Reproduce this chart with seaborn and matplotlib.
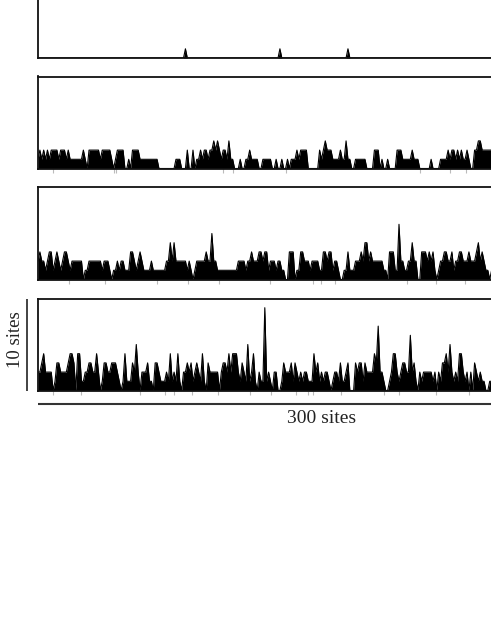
import numpy as np
import matplotlib
matplotlib.use("Agg")
import matplotlib.pyplot as plt
import matplotlib.transforms as mtransforms
import seaborn as sns

# counts per site (sites 0..240, everything right of that is cut off)
n_sites = 241
top_peaks = [78, 128, 164]  # the only sites with a hit in the first track

track2 = [1, 2, 1, 2, 1, 2, 1, 2, 2, 2,
          2, 1, 2, 2, 2, 1, 2, 1, 1, 1,
          1, 1, 1, 1, 2, 1, 0, 2, 2, 2,
          2, 2, 2, 1, 2, 2, 2, 2, 2, 1,
          0, 1, 2, 2, 2, 2, 0, 0, 1, 0,
          2, 2, 2, 2, 1, 1, 1, 1, 1, 1,
          1, 1, 1, 1, 0, 0, 0, 0, 0, 0,
          0, 0, 0, 1, 1, 1, 0, 0, 0, 2,
          0, 0, 2, 0, 1, 1, 2, 1, 2, 2,
          1, 2, 2, 3, 2, 3, 2, 1, 2, 2,
          1, 3, 1, 1, 0, 0, 0, 1, 0, 0,
          1, 1, 2, 1, 1, 1, 1, 0, 0, 1,
          1, 1, 1, 1, 0, 0, 1, 0, 0, 1,
          0, 0, 1, 0, 1, 1, 1, 2, 1, 2,
          2, 2, 2, 0, 0, 0, 0, 0, 0, 2,
          1, 2, 3, 2, 2, 2, 1, 1, 1, 1,
          2, 1, 1, 3, 1, 1, 0, 0, 1, 1,
          1, 1, 1, 1, 0, 0, 0, 0, 2, 2,
          2, 0, 1, 0, 0, 1, 0, 0, 0, 0,
          2, 2, 2, 1, 1, 1, 1, 1, 2, 1,
          1, 1, 0, 0, 0, 0, 0, 0, 1, 0,
          0, 0, 0, 1, 1, 1, 1, 2, 1, 2,
          2, 1, 2, 1, 2, 1, 1, 2, 1, 0,
          0, 2, 2, 3, 3, 2, 2, 2, 2, 2, 2]

track3 = [2, 3, 2, 2, 1, 2, 3, 3, 1, 2,
          3, 2, 1, 2, 3, 3, 2, 1, 2, 2,
          2, 2, 2, 2, 0, 1, 1, 2, 2, 2,
          2, 2, 2, 2, 1, 2, 2, 2, 1, 0,
          1, 1, 2, 1, 2, 2, 1, 1, 1, 3,
          3, 2, 1, 2, 3, 2, 1, 1, 1, 1,
          2, 1, 1, 1, 1, 1, 1, 1, 2, 2,
          4, 2, 4, 2, 2, 2, 2, 2, 2, 1,
          2, 1, 0, 1, 2, 2, 2, 2, 2, 3,
          2, 2, 5, 2, 2, 1, 1, 1, 1, 1,
          1, 1, 1, 1, 1, 1, 2, 2, 2, 2,
          1, 2, 2, 3, 2, 2, 2, 3,
          3, 2, 3, 3, 1, 2, 2, 2, 1, 2,
          2, 1, 1, 0, 0, 3, 3, 3, 0, 1,
          1, 3, 3, 2, 2, 2, 1, 2, 2, 2,
          2, 1, 1, 3, 3, 2, 3, 3, 1, 2,
          2, 1, 0, 0, 1, 1, 3, 1, 1, 1,
          2, 2, 2, 3, 2, 4, 4, 2, 3, 2,
          2, 2, 2, 2, 2, 1, 1, 0, 3, 3,
          3, 1, 1, 6, 2, 2, 1, 1, 2, 2,
          4, 2, 2, 0, 0, 3, 3, 3, 2, 3,
          2, 3, 1, 0, 1, 2, 2, 3, 3, 2,
          2, 3, 1, 2, 2, 3, 3, 2, 2, 2,
          3, 2, 2, 2, 3, 4, 2, 3, 2, 1, 1, 0, 1]

track4 = [2, 2, 3, 4, 2, 2, 2, 2, 0, 1,
          3, 3, 2, 2, 2, 2, 3, 4, 4, 3,
          0, 4, 4, 1, 1, 2, 2, 3, 3, 2,
          2, 4, 2, 0, 1, 3, 3, 2, 2, 3,
          3, 3, 2, 1, 0, 1, 4, 1, 1, 1,
          3, 2, 5, 2, 0, 2, 2, 2, 3, 1,
          1, 0, 3, 3, 2, 1, 1, 1, 2, 1,
          4, 1, 2, 1, 4, 1, 0, 2, 2, 3,
          2, 3, 1, 2, 3, 2, 1, 4, 1, 0,
          3, 2, 2, 2, 2, 2, 0, 2, 3, 3,
          2, 4, 2, 4, 4, 4, 2, 1, 3, 2,
          1, 5, 1, 2, 4, 1, 0, 2,
          1, 1, 9, 1, 2, 1, 0, 2, 2, 0,
          0, 1, 3, 2, 2, 2, 3, 1, 3, 2,
          1, 2, 1, 2, 2, 1, 1, 1, 4, 2,
          3, 1, 2, 1, 2, 2, 1, 0, 1, 2,
          2, 1, 3, 1, 1, 2, 3, 0, 0, 0,
          3, 2, 3, 3, 1, 3, 2, 2, 2, 2,
          4, 3, 7, 2, 2, 1, 0, 0, 1, 2,
          4, 4, 2, 1, 2, 3, 3, 2, 2, 6,
          2, 3, 1, 0, 2, 1, 2, 2, 2, 2,
          2, 1, 2, 0, 2, 1, 3, 3, 4, 2,
          5, 2, 1, 2, 1, 4, 4, 2, 1, 2,
          0, 2, 0, 3, 2, 1, 2, 1, 1, 0, 0, 1, 1]

# faint marks under each track (site positions)
marks1 = []
marks2 = [8, 40, 41.5, 98, 103, 131, 202, 218, 226.5]
marks3 = [16.5, 35.5, 63, 79.5, 96, 122.5, 145.5, 149.5, 157, 195.5, 210.5, 226]
marks4 = [8, 22.5, 54, 67, 72, 81.5, 95.5, 112, 123.5, 136.5, 143, 145.5,
          160.5, 183, 191, 210.5, 228]

scale_sites = 300
scale_height = 10

track1 = np.zeros(n_sites)
track1[top_peaks] = 1

sns.set_style("white")
plt.rcParams['font.family'] = ['Liberation Serif', 'DejaVu Serif']

fig = plt.figure(figsize=(4.91, 6.35), dpi=100)

# axes run past the right and top edges, the original figure was cropped
left, width, height = 38 / 491, 567 / 491, 92 / 635
bottoms = [(635 - 58) / 635, (635 - 168.5) / 635, (635 - 279.5) / 635, (635 - 390.5) / 635]

tracks = [track1, track2, track3, track4]
marks = [marks1, marks2, marks3, marks4]
axes = []
for vals, mk, b in zip(tracks, marks, bottoms):
    ax = fig.add_axes([left, b, width, height])
    sites = np.arange(len(vals))
    vals = np.asarray(vals, dtype=float)
    ax.fill_between(sites, vals, 0, color='black', linewidth=0)
    sns.lineplot(x=sites, y=vals, ax=ax, color='black', linewidth=0.8)
    ax.set_xlim(0, scale_sites)
    ax.set_ylim(0, scale_height)
    ax.set_yticks([])
    ax.set_xticks(mk)
    ax.set_xticklabels([])
    ax.tick_params(axis='x', direction='out', length=3, width=0.8,
                   color='#bbbbbb', bottom=True)
    ax.set_xlabel('')
    ax.set_ylabel('')
    for s in ax.spines.values():
        s.set_linewidth(1.3)
        s.set_color('#111111')
    axes.append(ax)

ax = axes[-1]
# 300 sites scale bar under the last track
tr = mtransforms.blended_transform_factory(ax.transData, ax.transAxes)
ax.plot([0, scale_sites], [-0.152, -0.152], transform=tr, clip_on=False,
        color='#333333', linewidth=1.5, solid_capstyle='butt')
ax.text(scale_sites / 2, -0.30, '300 sites', transform=tr, ha='center',
        va='center', fontsize=14, color='#222222')

# 10 sites scale bar at the left
tr2 = mtransforms.blended_transform_factory(ax.transAxes, ax.transData)
ax.plot([-0.019, -0.019], [0, scale_height], transform=tr2, clip_on=False,
        color='#222222', linewidth=1.2, solid_capstyle='butt')
ax.text(-0.039, 5.5, '10 sites', transform=tr2, ha='center', va='center',
        rotation=90, fontsize=13.5, color='#222222')

fig.savefig('out.png', dpi=100, facecolor='white')
